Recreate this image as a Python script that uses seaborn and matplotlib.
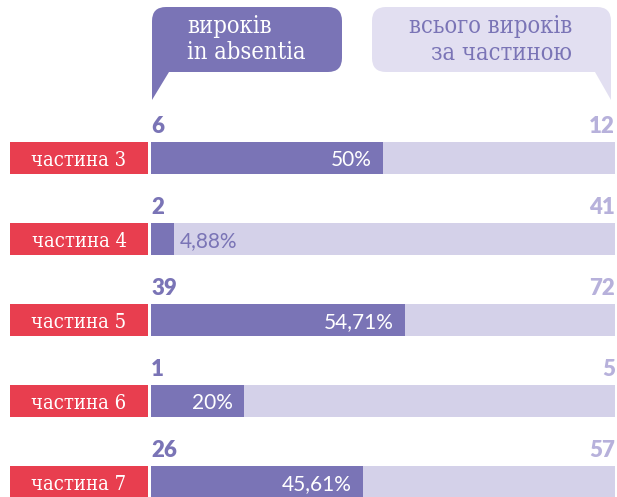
import matplotlib
matplotlib.use("Agg")
import matplotlib.pyplot as plt
import seaborn as sns
import pandas as pd
from matplotlib.patches import FancyBboxPatch, Polygon
from matplotlib import font_manager

# ---- data ----
parts = ["частина 3", "частина 4", "частина 5", "частина 6", "частина 7"]
absentia = [6, 2, 39, 1, 26]
totals = [12, 41, 72, 5, 57]
pct = [50, 4.88, 54.71, 20, 45.61]
pct_labels = ["50%", "4,88%", "54,71%", "20%", "45,61%"]
bubble_left = ["вироків", "in absentia"]
bubble_right = ["всього вироків", "за частиною"]

DARK = "#7a74b6"
LIGHT = "#d4d1e9"
BUBBLE_LIGHT = "#e2dff1"
RED = "#e83e4f"
NUM_LIGHT = "#b7b1db"

sns.set_theme(style="white")
# prefer a condensed DejaVu Serif if present (heavier strokes, narrow)
names = {(f.name, f.stretch) for f in font_manager.fontManager.ttflist}
if ("DejaVu Serif", "condensed") in names or ("DejaVu Serif", 75) in names:
    SERIF_KW = dict(family=["DejaVu Serif"], fontstretch="condensed")
    SZ_B, SZ_L = 17, 14.5
else:
    SERIF_KW = dict(family=["Liberation Serif"], fontweight="bold")
    SZ_B, SZ_L = 18, 15.5
SANS = ["Lato", "DejaVu Sans"]

W, H = 617, 497
fig = plt.figure(figsize=(W / 100, H / 100), dpi=100)


def fig_rect(x0, y0, x1, y1):
    return [x0 / W, 1 - y1 / H, (x1 - x0) / W, (y1 - y0) / H]


df = pd.DataFrame({"part": parts, "pct": pct, "full": [100] * len(parts)})

BW = 0.39
YLIM = (4.185, -0.593)

# bars
ax = fig.add_axes(fig_rect(151, 110, 615, 497))
sns.barplot(data=df, y="part", x="full", color=LIGHT, width=BW, ax=ax,
            saturation=1, orient="h", linewidth=0)
sns.barplot(data=df, y="part", x="pct", color=DARK, width=BW, ax=ax,
            saturation=1, orient="h", linewidth=0)
ax.set_xlim(0, 100)
ax.set_ylim(*YLIM)
ax.axis("off")

for i in range(len(parts)):
    top = i - BW / 2 - 0.11
    ax.text(0, top, str(absentia[i]), ha="left", va="baseline",
            fontsize=16, fontweight="heavy", color=DARK, family=SANS)
    ax.text(100, top, str(totals[i]), ha="right", va="baseline",
            fontsize=16, fontweight="heavy", color=NUM_LIGHT, family=SANS)
    if pct[i] > 10:
        ax.text(pct[i] - 2.4, i, pct_labels[i], ha="right", va="center_baseline",
                fontsize=15, color="white", family=SANS)
    else:
        ax.text(pct[i] + 1.3, i, pct_labels[i], ha="left", va="center_baseline",
                fontsize=15, color=DARK, family=SANS)

# red label column
ax2 = fig.add_axes(fig_rect(10, 110, 148, 497))
sns.barplot(data=df, y="part", x="full", color=RED, width=BW, ax=ax2,
            saturation=1, orient="h", linewidth=0)
ax2.set_xlim(0, 100)
ax2.set_ylim(*YLIM)
ax2.axis("off")
for i, p in enumerate(parts):
    ax2.text(50, i, p, ha="center", va="center_baseline", fontsize=SZ_L,
             color="white", **SERIF_KW)

# speech bubbles (overlay in pixel coords)
ov = fig.add_axes([0, 0, 1, 1])
ov.set_xlim(0, W)
ov.set_ylim(H, 0)
ov.axis("off")

ov.add_patch(FancyBboxPatch((152, 7), 190, 65,
                            boxstyle="round,pad=0,rounding_size=14",
                            facecolor=DARK, edgecolor="none"))
ov.add_patch(Polygon([(152, 55), (152, 100), (169, 72), (175, 55)],
                     closed=True, facecolor=DARK, edgecolor="none"))
ov.text(187, 33, bubble_left[0], ha="left", va="baseline", fontsize=SZ_B,
        color="white", **SERIF_KW)
ov.text(187, 59, bubble_left[1], ha="left", va="baseline", fontsize=SZ_B,
        color="white", **SERIF_KW)

ov.add_patch(FancyBboxPatch((372, 7), 239, 65,
                            boxstyle="round,pad=0,rounding_size=14",
                            facecolor=BUBBLE_LIGHT, edgecolor="none"))
ov.add_patch(Polygon([(590, 55), (595, 72), (611, 100), (611, 55)],
                     closed=True, facecolor=BUBBLE_LIGHT, edgecolor="none"))
ov.text(572, 33, bubble_right[0], ha="right", va="baseline", fontsize=SZ_B,
        color=DARK, **SERIF_KW)
ov.text(572, 60, bubble_right[1], ha="right", va="baseline", fontsize=SZ_B,
        color=DARK, **SERIF_KW)

fig.savefig("out.png", dpi=100)
